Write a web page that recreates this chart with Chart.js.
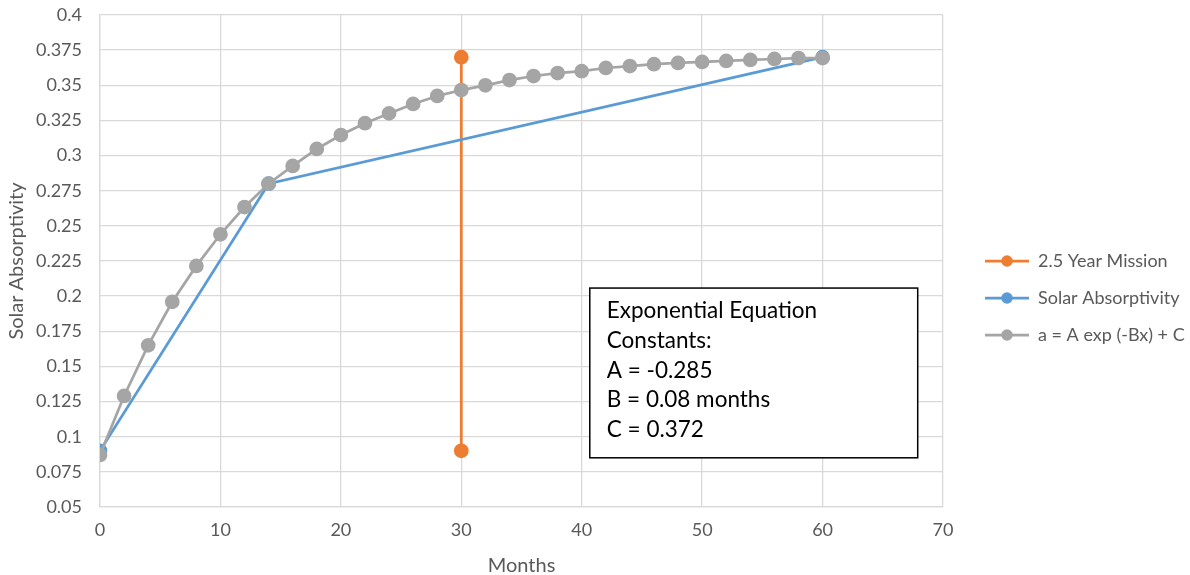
<!DOCTYPE html>
<html>
<head>
<meta charset="utf-8">
<script src="https://cdn.jsdelivr.net/npm/chart.js@4/dist/chart.umd.min.js"></script>
<style>
html,body{margin:0;padding:0;background:#fff;}
#wrap{width:1190px;height:575px;position:relative;}
</style>
</head>
<body>
<div id="wrap"><canvas id="c" width="1190" height="575"></canvas></div>
<script>
// ---- data ----
const seriesNames = ["2.5 Year Mission", "Solar Absorptivity", "a = A exp (-Bx) + C"];
const missionX = [30, 30];
const missionY = [0.09, 0.37];
const solarX = [0, 14, 60];
const solarY = [0.09, 0.28, 0.37];
const fitX = [0,2,4,6,8,10,12,14,16,18,20,22,24,26,28,30,32,34,36,38,40,42,44,46,48,50,52,54,56,58,60];
const fitY = [0.087,0.129,0.165,0.196,0.2215,0.244,0.2634,0.28,0.2926,0.3047,0.3146,0.323,0.330,0.3367,0.3424,0.3466,0.350,0.3537,0.3566,0.3587,0.360,0.3623,0.3637,0.365,0.3659,0.3666,0.3673,0.368,0.3687,0.3694,0.3694];
const boxLines = ["Exponential Equation", "Constants:", "A = -0.285", "B = 0.08 months", "C = 0.372"];
const xTitle = "Months";
const yTitle = "Solar Absorptivity";

const colors = ["#ED7D31", "#5B9BD5", "#A5A5A5"];
const FONT = "Lato, 'Open Sans', sans-serif";

function toPts(xs, ys){ return xs.map((x,i)=>({x:x, y:ys[i]})); }

function legendImg(color){
  const m = 23, L = 44;
  const c = document.createElement('canvas');
  c.width = m + L; c.height = 14;
  const g = c.getContext('2d');
  g.strokeStyle = color; g.lineWidth = 2.75;
  g.beginPath(); g.moveTo(m,7); g.lineTo(m+L,7); g.stroke();
  g.fillStyle = color;
  g.beginPath(); g.arc(m+L/2,7,5.75,0,Math.PI*2); g.fill();
  return c;
}

const textBoxPlugin = {
  id: 'textBox',
  afterDatasetsDraw(chart){
    const ca = chart.chartArea, ctx = chart.ctx;
    const w = ca.right - ca.left, h = ca.bottom - ca.top;
    const l = ca.left + w*0.581, r = ca.left + w*0.970;
    const t = ca.top + h*0.555, b = ca.top + h*0.900;
    ctx.save();
    ctx.fillStyle = "#fff";
    ctx.fillRect(l, t, r-l, b-t);
    ctx.strokeStyle = "#000"; ctx.lineWidth = 1.5;
    ctx.strokeRect(l, t, r-l, b-t);
    ctx.fillStyle = "#000";
    ctx.font = "22.5px " + FONT;
    ctx.textBaseline = "middle";
    boxLines.forEach((s,i)=>{ ctx.fillText(s, l+17, t+23+i*29.7); });
    ctx.restore();
  }
};

new Chart(document.getElementById('c'), {
  type: 'line',
  data: {
    datasets: [
      {label: seriesNames[0], data: toPts(missionX, missionY), borderColor: colors[0], backgroundColor: colors[0],
       borderWidth: 2.75, pointRadius: 6, pointHoverRadius: 6, order: 3},
      {label: seriesNames[1], data: toPts(solarX, solarY), borderColor: colors[1], backgroundColor: colors[1],
       borderWidth: 2.75, pointRadius: 6, pointHoverRadius: 6, order: 2},
      {label: seriesNames[2], data: toPts(fitX, fitY), borderColor: colors[2], backgroundColor: colors[2],
       borderWidth: 2.75, pointRadius: 6, pointHoverRadius: 6, order: 1}
    ]
  },
  options: {
    responsive: false,
    animation: false,
    devicePixelRatio: 1,
    layout: {padding: {left: 0, right: 0, top: 15, bottom: 0}},
    plugins: {
      tooltip: {enabled: false},
      legend: {
        position: 'right',
        maxWidth: 247,
        title: {display: true, text: '', font: {size: 5}, padding: 0},
        labels: {
          usePointStyle: true,
          pointStyleWidth: 67,
          padding: 19,
          color: "#595959",
          font: {family: FONT, size: 18},
          sort: (a,b) => a.datasetIndex - b.datasetIndex,
          generateLabels(chart){
            return chart.data.datasets.map((d,i)=>({
              text: d.label, datasetIndex: i, fillStyle: d.borderColor, strokeStyle: d.borderColor,
              lineWidth: 0, pointStyle: legendImg(d.borderColor), hidden: false, fontColor: "#595959"
            }));
          }
        }
      }
    },
    scales: {
      x: {
        type: 'linear', min: 0, max: 70,
        afterFit: s => { s.height = 68; s.paddingLeft = 0; s.paddingRight = 0; },
        ticks: {stepSize: 10, color: "#595959", font: {family: FONT, size: 18}, padding: 12},
        grid: {color: "#D9D9D9", lineWidth: 1.3, drawTicks: false},
        border: {color: "#D9D9D9", width: 1.3},
        title: {display: true, text: xTitle, color: "#595959", font: {family: FONT, size: 20}, padding: {top: 0, bottom: -3}}
      },
      y: {
        type: 'linear', min: 0.05, max: 0.4,
        afterFit: s => { s.width = 100; s.paddingTop = 0; s.paddingBottom = 0; },
        ticks: {stepSize: 0.025, color: "#595959", font: {family: FONT, size: 18}, padding: 18,
                callback: v => String(parseFloat(v.toFixed(3)))},
        grid: {color: "#D9D9D9", lineWidth: 1.3, drawTicks: false},
        border: {color: "#D9D9D9", width: 1.3},
        title: {display: true, text: yTitle, color: "#595959", font: {family: FONT, size: 20}, padding: {top: 5, bottom: 0}}
      }
    }
  },
  plugins: [textBoxPlugin]
});
</script>
</body>
</html>
